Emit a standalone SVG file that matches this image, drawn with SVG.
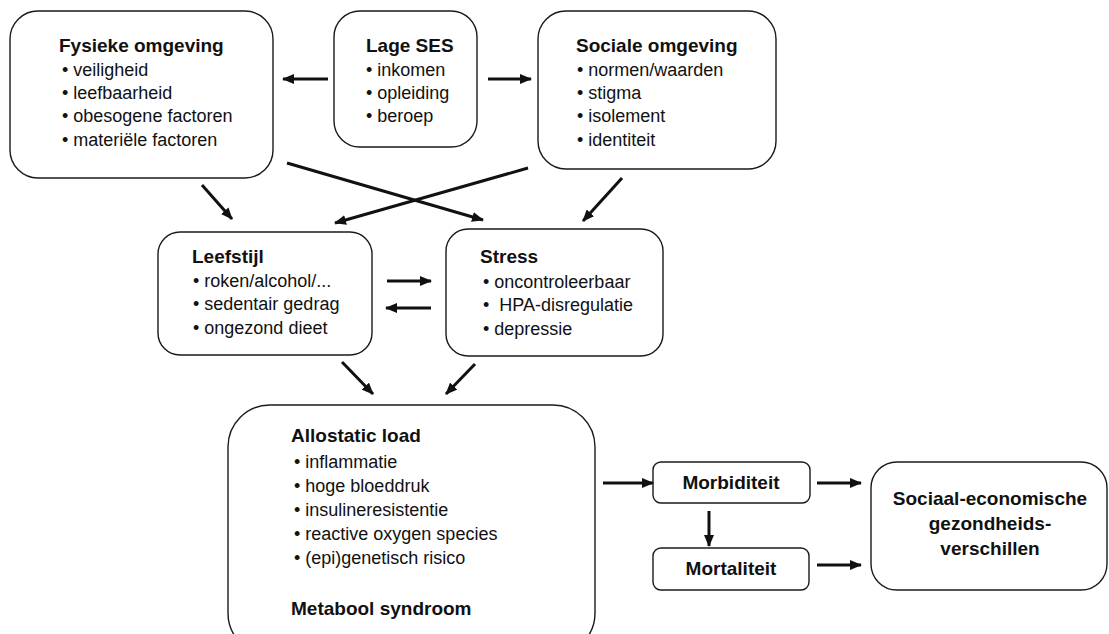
<svg xmlns="http://www.w3.org/2000/svg" width="1109" height="634" viewBox="0 0 1109 634">
<defs>
<style>
.box{fill:#fff;stroke:#1a1a1a;stroke-width:1.4}
.t{font-family:"Liberation Sans",Arial,sans-serif;font-size:18px;fill:#111}
.b{font-family:"Liberation Sans",Arial,sans-serif;font-size:19px;font-weight:bold;fill:#111}
.bc{font-family:"Liberation Sans",Arial,sans-serif;font-size:19px;font-weight:bold;fill:#111;text-anchor:middle}
.c line{stroke:#111;stroke-width:3;marker-end:url(#ah)}
</style>
<marker id="ah" markerUnits="userSpaceOnUse" viewBox="0 0 12 10" refX="11" refY="5" markerWidth="12" markerHeight="10" orient="auto">
<path d="M0,0 L12,5 L0,10 Z" fill="#111"/>
</marker>
</defs>
<rect width="1109" height="634" fill="#fff"/>

<g id="fysieke">
<rect class="box" x="10" y="11" width="263" height="167" rx="28"/>
<text class="b" x="59" y="52">Fysieke omgeving</text>
<text class="t" x="62" y="76">• veiligheid</text>
<text class="t" x="62" y="99">• leefbaarheid</text>
<text class="t" x="62" y="122">• obesogene factoren</text>
<text class="t" x="62" y="146">• materiële factoren</text>
</g>

<g id="lageses">
<rect class="box" x="334" y="11" width="143" height="136" rx="26"/>
<text class="b" x="366" y="52">Lage SES</text>
<text class="t" x="366" y="76">• inkomen</text>
<text class="t" x="366" y="99">• opleiding</text>
<text class="t" x="366" y="122">• beroep</text>
</g>

<g id="sociale">
<rect class="box" x="538" y="11" width="238" height="158" rx="28"/>
<text class="b" x="576" y="52">Sociale omgeving</text>
<text class="t" x="577" y="76">• normen/waarden</text>
<text class="t" x="577" y="99">• stigma</text>
<text class="t" x="577" y="122">• isolement</text>
<text class="t" x="577" y="146">• identiteit</text>
</g>

<g id="leefstijl">
<rect class="box" x="158" y="232" width="214" height="123" rx="22"/>
<text class="b" x="192" y="263">Leefstijl</text>
<text class="t" x="193" y="287">• roken/alcohol/...</text>
<text class="t" x="193" y="310">• sedentair gedrag</text>
<text class="t" x="193" y="334">• ongezond dieet</text>
</g>

<g id="stress">
<rect class="box" x="446" y="229" width="217" height="127" rx="22"/>
<text class="b" x="480" y="263">Stress</text>
<text class="t" x="483" y="288">• oncontroleerbaar</text>
<text class="t" x="483" y="311" xml:space="preserve">•  HPA-disregulatie</text>
<text class="t" x="483" y="335">• depressie</text>
</g>

<g id="allostatic">
<rect class="box" x="228" y="405" width="367" height="250" rx="42"/>
<text class="b" x="291" y="442">Allostatic load</text>
<text class="t" x="294" y="468">• inflammatie</text>
<text class="t" x="294" y="492">• hoge bloeddruk</text>
<text class="t" x="294" y="516">• insulineresistentie</text>
<text class="t" x="294" y="540">• reactive oxygen species</text>
<text class="t" x="294" y="564">• (epi)genetisch risico</text>
<text class="b" x="291" y="615">Metabool syndroom</text>
</g>

<g id="morbiditeit">
<rect class="box" x="653" y="462" width="157" height="41" rx="8"/>
<text class="bc" x="731" y="489">Morbiditeit</text>
</g>

<g id="mortaliteit">
<rect class="box" x="653" y="548" width="156" height="42" rx="8"/>
<text class="bc" x="731" y="575">Mortaliteit</text>
</g>

<g id="verschillen">
<rect class="box" x="871" y="462" width="236" height="128" rx="26"/>
<text class="bc" x="990" y="505">Sociaal-economische</text>
<text class="bc" x="990" y="530">gezondheids-</text>
<text class="bc" x="990" y="555">verschillen</text>
</g>

<g id="connectors" class="c">
<line x1="328" y1="79" x2="283" y2="79"/>
<line x1="488" y1="79" x2="531" y2="79"/>
<line x1="202" y1="185" x2="232" y2="219"/>
<line x1="287" y1="163" x2="483" y2="220"/>
<line x1="528" y1="168" x2="335" y2="223"/>
<line x1="622" y1="178" x2="583" y2="221"/>
<line x1="387" y1="281" x2="431" y2="281"/>
<line x1="431" y1="308" x2="386" y2="308"/>
<line x1="342" y1="362" x2="373" y2="394"/>
<line x1="475" y1="364" x2="446" y2="394"/>
<line x1="603" y1="483" x2="653" y2="483"/>
<line x1="817" y1="483" x2="861" y2="483"/>
<line x1="709" y1="511" x2="709" y2="546"/>
<line x1="817" y1="565" x2="861" y2="565"/>
</g>
</svg>
